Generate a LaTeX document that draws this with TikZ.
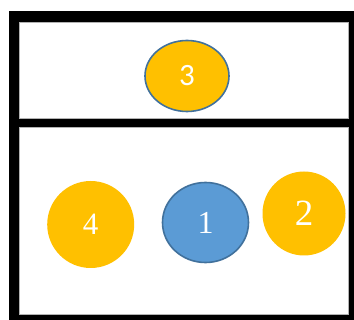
\documentclass[tikz,border=0pt]{standalone}
\usepackage{fontspec}
\setmainfont{Liberation Serif}
\newfontfamily\calib{Carlito}
\usetikzlibrary{shapes.geometric}
\definecolor{gold}{HTML}{FFC000}
\definecolor{bluefill}{HTML}{5B9BD5}
\definecolor{blueedge}{HTML}{41719C}
\tikzset{
  blob/.style={ellipse, inner sep=0pt, text=white},
  goldblob/.style={blob, fill=gold},
  edged/.style={draw=blueedge, line width=1.6pt},
}
\begin{document}
\begin{tikzpicture}[x=1pt,y=-1pt]
\useasboundingbox (0,0) rectangle (354,320);
\fill[white] (0,0) rectangle (354,320);
\fill[black] (9,11) rectangle (354,320);
\fill[white, draw=black!30, line width=0.6pt] (19,22) rectangle (348,118);
\fill[white, draw=black!30, line width=0.6pt] (19,127) rectangle (348,314);
\node[goldblob, edged, minimum width=84pt, minimum height=71pt,
      font=\calib\fontsize{31}{31}\selectfont] (n3) at (187,76) {3};
\node[goldblob, minimum width=87pt, minimum height=87pt,
      font=\fontsize{31}{31}\selectfont] (n4) at (90.7,224.5) {4};
\node[blob, fill=bluefill, edged, minimum width=86pt, minimum height=80pt,
      font=\fontsize{32}{32}\selectfont] (n1) at (205.5,222.5) {1};
\node[goldblob, minimum width=83pt, minimum height=84pt,
      font=\fontsize{37}{37}\selectfont] (n2) at (304,213.5) {2};
\end{tikzpicture}
\end{document}
